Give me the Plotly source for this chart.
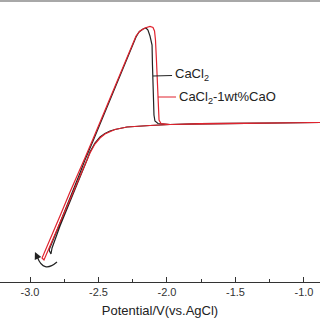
import plotly.graph_objects as go

# CaCl2 (black)
cacl2_fwd_v = [-0.883, -1.321, -1.759, -1.978, -2.124, -2.292, -2.380, -2.416, -2.453, -2.489,
               -2.526, -2.562, -2.584, -2.635, -2.708, -2.781, -2.839, -2.847]
cacl2_fwd_i = [0.005, 0.0, -0.005, -0.015, -0.025, -0.04, -0.065, -0.08, -0.105, -0.14,
               -0.20, -0.29, -0.37, -0.54, -0.79, -1.03, -1.25, -1.31]
cacl2_rev_v = [-2.861, -2.781, -2.708, -2.635, -2.599, -2.540, -2.489, -2.416, -2.343, -2.270,
               -2.226, -2.204, -2.175, -2.153, -2.139, -2.124, -2.109, -2.106, -2.102, -2.095,
               -2.088, -2.066, -1.978, -1.759, -1.321, -0.883]
cacl2_rev_i = [-1.27, -0.99, -0.75, -0.50, -0.37, -0.18, -0.01, 0.23, 0.47, 0.71,
               0.86, 0.91, 0.94, 0.95, 0.93, 0.87, 0.78, 0.58, 0.25, 0.08,
               0.02, -0.005, -0.015, -0.005, 0.0, 0.005]

# CaCl2-1wt%CaO (red)
cao_fwd_v = [-0.883, -1.321, -1.759, -1.978, -2.124, -2.292, -2.380, -2.416, -2.453, -2.489,
             -2.526, -2.562, -2.584, -2.635, -2.708, -2.781, -2.854, -2.898]
cao_fwd_i = [0.005, 0.0, -0.005, -0.015, -0.025, -0.04, -0.065, -0.085, -0.11, -0.15,
             -0.21, -0.30, -0.37, -0.53, -0.76, -1.00, -1.24, -1.37]
cao_rev_v = [-2.912, -2.854, -2.781, -2.708, -2.635, -2.599, -2.540, -2.489, -2.416, -2.343,
             -2.270, -2.226, -2.197, -2.161, -2.124, -2.102, -2.091, -2.084, -2.077, -2.069,
             -2.066, -2.058, -2.044, -1.978, -1.759, -1.321, -0.883]
cao_rev_i = [-1.35, -1.17, -0.93, -0.69, -0.47, -0.35, -0.16, 0.01, 0.25, 0.49,
             0.73, 0.87, 0.92, 0.95, 0.965, 0.955, 0.92, 0.83, 0.63, 0.33,
             0.13, 0.03, -0.005, -0.015, -0.005, 0.0, 0.005]

x_ticks = [-3.0, -2.5, -2.0, -1.5, -1.0]
x_tick_labels = ["-3.0", "-2.5", "-2.0", "-1.5", "-1.0"]
labels = ["CaCl<sub>2</sub>", "CaCl<sub>2</sub>-1wt%CaO"]

BLACK = "#222222"
RED = "#e0232e"

fig = go.Figure()
fig.add_trace(go.Scatter(x=cacl2_fwd_v + cacl2_rev_v, y=cacl2_fwd_i + cacl2_rev_i,
                         mode="lines", line=dict(color=BLACK, width=1.2), showlegend=False))
fig.add_trace(go.Scatter(x=cao_fwd_v + cao_rev_v, y=cao_fwd_i + cao_rev_i,
                         mode="lines", line=dict(color=RED, width=1.2), showlegend=False))

shapes = [
    dict(type="line", xref="paper", yref="paper", x0=0, x1=1, y0=1, y1=1,
         line=dict(color="#a8a8a8", width=2)),
    # leader lines
    dict(type="line", xref="x", yref="y", x0=-2.102, x1=-1.963, y0=0.47, y1=0.475,
         line=dict(color=BLACK, width=1)),
    dict(type="line", xref="x", yref="y", x0=-2.066, x1=-1.934, y0=0.26, y1=0.26,
         line=dict(color=RED, width=1)),
    # curved scan arrow
    dict(type="path", xref="x", yref="y",
         path="M -2.803,-1.39 Q -2.901,-1.505 -2.945,-1.345",
         line=dict(color=BLACK, width=1.2)),
]

annotations = [
    dict(x=-1.958, y=0.49, xref="x", yref="y", text=labels[0], showarrow=False,
         xanchor="left", yanchor="middle", font=dict(size=13, color=BLACK)),
    dict(x=-1.929, y=0.26, xref="x", yref="y", text=labels[1], showarrow=False,
         xanchor="left", yanchor="middle", font=dict(size=13, color=BLACK)),
    dict(x=-2.964, y=-1.29, ax=-2.945, ay=-1.345, xref="x", yref="y", axref="x", ayref="y",
         text="", showarrow=True, arrowhead=2, arrowsize=1.2, arrowwidth=1.2, arrowcolor=BLACK),
]

fig.update_layout(
    width=320, height=320,
    margin=dict(l=0, r=0, t=1, b=38),
    paper_bgcolor="white", plot_bgcolor="white",
    font=dict(family="Liberation Sans, Arial, sans-serif", color="#333333"),
    shapes=shapes, annotations=annotations,
    xaxis=dict(range=[-3.219, -0.883], showgrid=False, zeroline=False,
               showline=True, linecolor="#333333", linewidth=1,
               ticks="inside", ticklen=5, tickcolor="#333333",
               tickvals=x_ticks, ticktext=x_tick_labels,
               tickfont=dict(size=11, color="#333333"),
               minor=dict(ticks="inside", ticklen=3, dtick=0.25, tick0=-3.0, tickcolor="#333333"),
               title=dict(text="Potential/V(vs.AgCl)", font=dict(size=13, color="#222222"), standoff=8)),
    yaxis=dict(range=[-1.59, 1.22], visible=False),
)

fig.write_html("out.html", config={"displayModeBar": False},
               post_script="document.body.style.margin='0px';document.body.style.overflow='hidden';")
